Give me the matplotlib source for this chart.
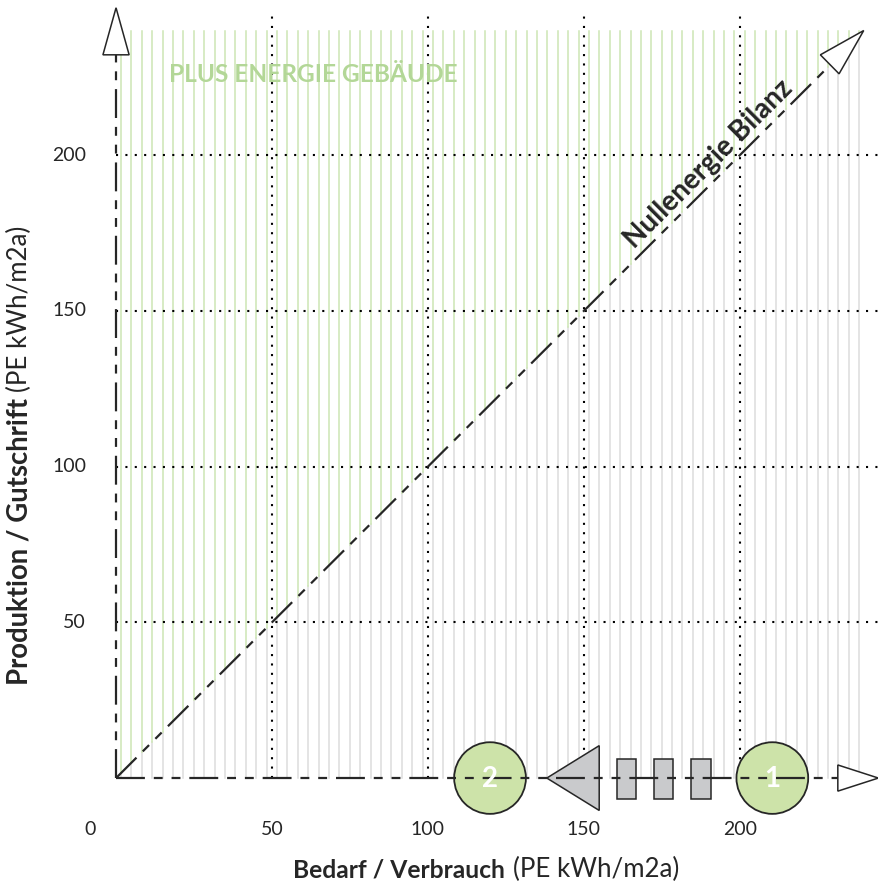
import numpy as np
import matplotlib
matplotlib.use('Agg')
import matplotlib.pyplot as plt
from matplotlib.patches import Circle, Polygon, Rectangle

plt.rcParams['font.family'] = ['Lato', 'DejaVu Sans']

# chart data
x_ticks = [0, 50, 100, 150, 200]
y_ticks = [50, 100, 150, 200]
axis_max = 240
stripe_x = np.arange(1.6, 241, 10 / 3)   # fine vertical hatch lines
circle_pos = [(210.4, '1'), (119.9, '2')]
triangle_x = (138.1, 154.9)             # tip, base
rect_x = [163.7, 175.6, 187.5]

green = '#cde3a9'
green_line = '#cde6b4'
grey_line = '#dcdcdc'
grey_fill = '#c9cacc'
dark = '#262626'
dashdot = (0, (13, 4, 4, 4, 4, 4))

fig = plt.figure(figsize=(8.79, 8.88), dpi=100)
ax = fig.add_axes([0, 0, 1, 1])
ax.set_xlim(-37.2, 244.6)
ax.set_ylim(-35.3, 249.8)
ax.axis('off')
renderer = fig.canvas.get_renderer()


def fit(t, width_px, rotation=0):
    # scale font so the unrotated text is width_px wide, then rotate
    w = t.get_window_extent(renderer).width
    t.set_fontsize(t.get_fontsize() * width_px / w)
    t.set_rotation(rotation)
    return t


# hatch stripes: green above the zero-energy diagonal, grey below
for x in stripe_x:
    ax.plot([x, x], [0, x], color=grey_line, lw=1.1, zorder=1)
    ax.plot([x, x], [x, axis_max], color=green_line, lw=1.1, zorder=1)

# dotted grid
for x in x_ticks[1:]:
    ax.plot([x, x], [0, 245], color='black', lw=1.5, ls=(0, (1, 3.5)), zorder=2)
for y in y_ticks:
    ax.plot([0, 244.6], [y, y], color='black', lw=1.5, ls=(0, (1, 3.5)), zorder=2)

# axes with open arrowheads
ax.plot([0, 0], [0, 232.2], color=dark, lw=1.6, ls=dashdot, zorder=4)
ax.add_patch(Polygon([(-4.2, 232.2), (4.2, 232.2), (0, 247.3)], closed=True,
                     facecolor='white', edgecolor=dark, lw=1.1, zorder=5))
ax.plot([0, 231.4], [0, 0], color=dark, lw=1.6, ls=dashdot, zorder=4)
ax.add_patch(Polygon([(231.4, -4.2), (231.4, 4.2), (244.4, 0)], closed=True,
                     facecolor='white', edgecolor=dark, lw=1.1, zorder=5))

# zero-energy diagonal
ax.plot([0, 229], [0, 229], color=dark, lw=1.6, ls=dashdot, zorder=4)
ax.add_patch(Polygon([(225.8, 232.2), (231.8, 226.1), (239.7, 240.0)], closed=True,
                     facecolor='white', edgecolor=dark, lw=1.1, zorder=5))
t = ax.text(190, 197.3, 'Nullenergie Bilanz', rotation_mode='anchor',
            ha='center', va='center', fontsize=15, fontweight='bold', color=dark, zorder=6)
fit(t, 226, 45)

t = ax.text(17, 226, 'PLUS ENERGIE GEBÄUDE', ha='left', va='center', fontsize=16,
            fontweight='bold', color='#b3d797', zorder=3)
fit(t, 288)

# markers on the x axis
for cx, lab in circle_pos:
    ax.add_patch(Circle((cx, 0), 11.5, facecolor=green, edgecolor=dark, lw=1.3, zorder=3))
    ax.text(cx, -0.3, lab, ha='center', va='center', fontsize=20, fontweight='bold',
            color='white', zorder=6)
ax.add_patch(Polygon([(triangle_x[0], 0), (triangle_x[1], 10.4), (triangle_x[1], -10.4)],
                     closed=True, facecolor=grey_fill, edgecolor=dark, lw=1.1, zorder=3))
for rx in rect_x:
    ax.add_patch(Rectangle((rx - 3.1, -6.6), 6.2, 12.8, facecolor=grey_fill,
                           edgecolor=dark, lw=1.1, zorder=3))

# tick labels
for x in x_ticks:
    ax.text(x - 8.3 if x == 0 else x, -16.4, str(x), ha='center', va='center',
            fontsize=14, color=dark)
for y in y_ticks:
    ax.text(-9.6, y, str(y), ha='right', va='center', fontsize=14, color=dark)

# axis titles, bold part + plain part
t = ax.text(124.7, -29.5, 'Bedarf / Verbrauch', ha='right', va='center', fontsize=15,
            fontweight='bold', color=dark)
fit(t, 213)
t = ax.text(127.2, -29.5, '(PE kWh/m2a)', ha='left', va='center', fontsize=15, color=dark)
fit(t, 167)
t = ax.text(-31.1, 122.0, 'Produktion / Gutschrift', ha='center', va='top',
            fontsize=15, fontweight='bold', color=dark)
fit(t, 289, 90)
t = ax.text(-31.1, 124.0, '(PE kWh/m2a)', ha='center', va='bottom',
            fontsize=15, color=dark)
fit(t, 167, 90)

fig.savefig('out.png', dpi=100)
